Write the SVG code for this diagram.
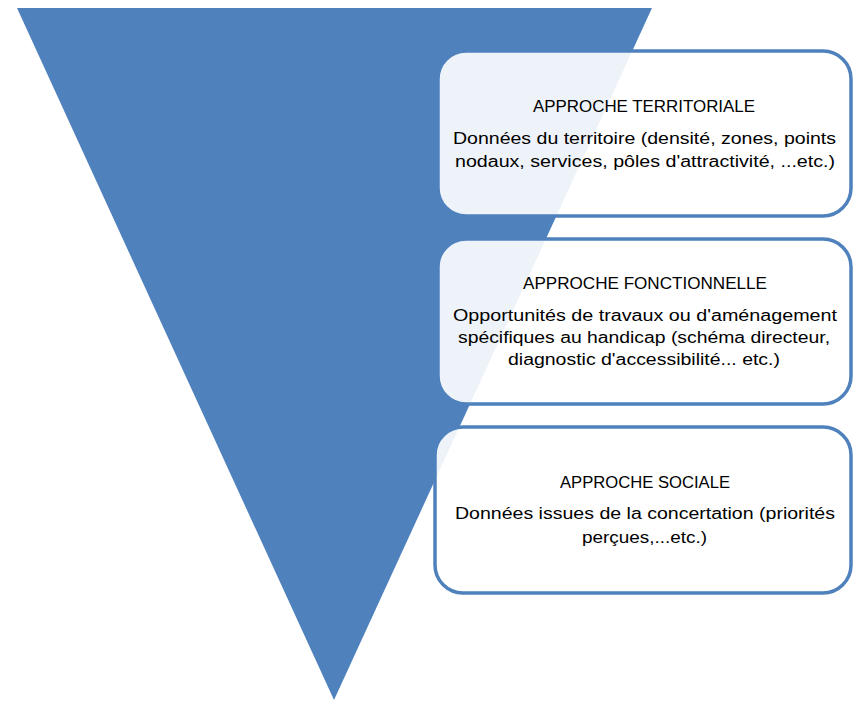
<svg xmlns="http://www.w3.org/2000/svg" width="854" height="701" viewBox="0 0 854 701">
<style>
.box{fill:#ffffff;fill-opacity:0.9;stroke:#4F81BD;stroke-width:3.5}
.t{font-family:"Liberation Sans",Arial,sans-serif;font-size:16px;fill:#000000;text-anchor:middle}
</style>
<rect width="854" height="701" fill="#ffffff"/>
<g id="triangle">
<polygon points="17,8 652,8 334,700" fill="#4F81BD"/>
</g>
<g id="connectors"></g>
<g id="territoriale">
<rect class="box" x="438" y="51" width="413" height="165" rx="28" ry="28"/>
<text class="t" x="644" y="112" textLength="222" lengthAdjust="spacingAndGlyphs">APPROCHE TERRITORIALE</text>
<text class="t" x="644.5" y="144" textLength="383" lengthAdjust="spacingAndGlyphs">Données du territoire (densité, zones, points</text>
<text class="t" x="645" y="166.5" textLength="380" lengthAdjust="spacingAndGlyphs">nodaux, services, pôles d'attractivité, ...etc.)</text>
</g>
<g id="fonctionnelle">
<rect class="box" x="438" y="239" width="413" height="165" rx="28" ry="28"/>
<text class="t" x="645" y="289" textLength="244" lengthAdjust="spacingAndGlyphs">APPROCHE FONCTIONNELLE</text>
<text class="t" x="645" y="320.5" textLength="384" lengthAdjust="spacingAndGlyphs">Opportunités de travaux ou d'aménagement</text>
<text class="t" x="644" y="342.5" textLength="372" lengthAdjust="spacingAndGlyphs">spécifiques au handicap (schéma directeur,</text>
<text class="t" x="644" y="365" textLength="272" lengthAdjust="spacingAndGlyphs">diagnostic d'accessibilité... etc.)</text>
</g>
<g id="sociale">
<rect class="box" x="435" y="427" width="416" height="166" rx="28" ry="28"/>
<text class="t" x="645" y="487.5" textLength="170" lengthAdjust="spacingAndGlyphs">APPROCHE SOCIALE</text>
<text class="t" x="645" y="519" textLength="380" lengthAdjust="spacingAndGlyphs">Données issues de la concertation (priorités</text>
<text class="t" x="644.5" y="542.5" textLength="125" lengthAdjust="spacingAndGlyphs">perçues,...etc.)</text>
</g>
</svg>
